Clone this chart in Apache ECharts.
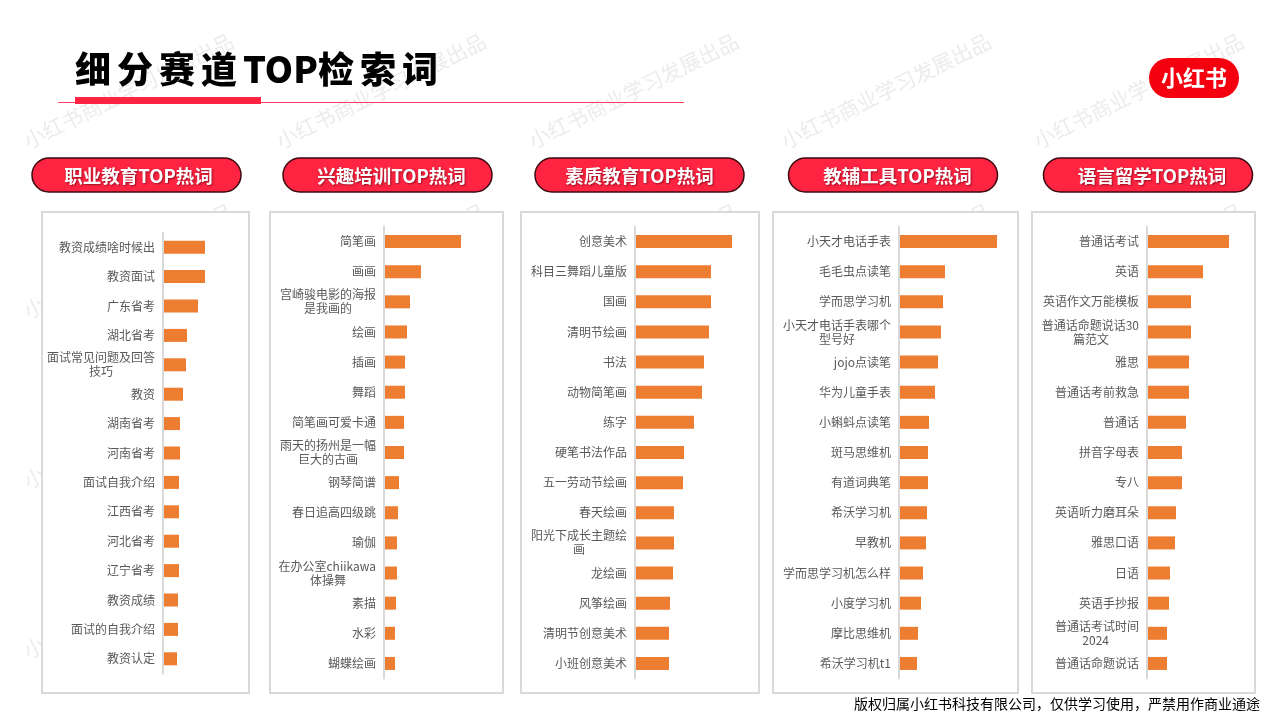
<!DOCTYPE html>
<html>
<head>
<meta charset="utf-8">
<style>html,body{margin:0;padding:0;background:#fff}#main{width:1280px;height:720px}</style>
<script src="https://cdn.jsdelivr.net/npm/echarts@6/dist/echarts.min.js"></script>
</head>
<body>
<div id="main"></div>
<script>
var titles = ['职业教育TOP热词', '兴趣培训TOP热词', '素质教育TOP热词', '教辅工具TOP热词', '语言留学TOP热词'];

var cats1 = ['教资成绩啥时候出', '教资面试', '广东省考', '湖北省考', '面试常见问题及回答\n技巧', '教资', '湖南省考', '河南省考', '面试自我介绍', '江西省考', '河北省考', '辽宁省考', '教资成绩', '面试的自我介绍', '教资认定'];
var vals1 = [42, 42, 35, 24, 23, 20, 17, 17, 16, 16, 16, 16, 15, 15, 14];

var cats2 = ['简笔画', '画画', '宫崎骏电影的海报\n是我画的', '绘画', '插画', '舞蹈', '简笔画可爱卡通', '雨天的扬州是一幅\n巨大的古画', '钢琴简谱', '春日追高四级跳', '瑜伽', '在办公室chiikawa\n体操舞', '素描', '水彩', '蝴蝶绘画'];
var vals2 = [77, 37, 26, 23, 21, 21, 20, 20, 15, 14, 13, 13, 12, 11, 11];

var cats3 = ['创意美术', '科目三舞蹈儿童版', '国画', '清明节绘画', '书法', '动物简笔画', '练字', '硬笔书法作品', '五一劳动节绘画', '春天绘画', '阳光下成长主题绘\n画', '龙绘画', '风筝绘画', '清明节创意美术', '小班创意美术'];
var vals3 = [97, 76, 76, 74, 69, 67, 59, 49, 48, 39, 39, 38, 35, 34, 34];

var cats4 = ['小天才电话手表', '毛毛虫点读笔', '学而思学习机', '小天才电话手表哪个\n型号好', 'jojo点读笔', '华为儿童手表', '小蝌蚪点读笔', '斑马思维机', '有道词典笔', '希沃学习机', '早教机', '学而思学习机怎么样', '小度学习机', '摩比思维机', '希沃学习机t1'];
var vals4 = [98, 46, 44, 42, 39, 36, 30, 29, 29, 28, 27, 24, 22, 19, 18];

var cats5 = ['普通话考试', '英语', '英语作文万能模板', '普通话命题说话30\n篇范文', '雅思', '普通话考前救急', '普通话', '拼音字母表', '专八', '英语听力磨耳朵', '雅思口语', '日语', '英语手抄报', '普通话考试时间\n2024', '普通话命题说话'];
var vals5 = [82, 56, 44, 44, 42, 42, 39, 35, 35, 29, 28, 23, 22, 20, 20];

var allCats = [cats1, cats2, cats3, cats4, cats5];
var allVals = [vals1, vals2, vals3, vals4, vals5];

var axisX = [163, 384, 635, 899, 1147];
var gridTop = [232.5, 226.5, 226.5, 226.5, 226.5];
var gridBottom = [673.5, 678.5, 678.5, 678.5, 678.5];
var boxL = [42, 270, 521, 773, 1032];
var boxR = [249, 503, 759, 1018, 1255];
var pillL = [32, 283, 535, 788.5, 1043.5];
var pillTextX = [138.5, 391.5, 639.5, 897.5, 1152];

var labelFont = '12px "Noto Sans CJK SC"';
var ctx = document.createElement('canvas').getContext('2d');
ctx.font = labelFont;

// 换行的标签第二行要居中，右对齐时用全角空格垫出来
function centerLines(text) {
    var lines = text.split('\n');
    if (lines.length == 1) return text;
    var w = ctx.measureText(lines[0]).width;
    var diff = (w - ctx.measureText(lines[1]).width) / 2;
    var pad = '';
    while (diff >= 12) { pad += '\u3000'; diff -= 12; }
    if (diff >= 3) pad += '\u2002';
    return lines[0] + '\n' + lines[1] + pad;
}

var myChart = echarts.init(document.getElementById('main'), null, {renderer: 'canvas'});

var grids = [], xAxes = [], yAxes = [], series = [], graphics = [];

// 水印
for (var r = 0; r < 4; r++) {
    for (var c = 0; c < 5; c++) {
        graphics.push({
            type: 'text', x: 25 + c * 252.5, y: 142 + r * 170, rotation: 0.46, z: 0,
            style: {
                text: '小红书商业学习发展出品', fill: '#ececec',
                font: '21px "Noto Sans CJK SC"', textVerticalAlign: 'middle'
            }
        });
    }
}

for (var i = 0; i < 5; i++) {
    grids.push({left: axisX[i], width: 100, top: gridTop[i], height: gridBottom[i] - gridTop[i]});
    xAxes.push({type: 'value', gridIndex: i, min: 0, max: 100, show: false});
    yAxes.push({
        type: 'category', gridIndex: i, inverse: true, z: 5,
        data: allCats[i].map(centerLines),
        axisLine: {show: true, lineStyle: {color: '#d9d9d9', width: 2}},
        axisTick: {show: false},
        axisLabel: {
            interval: 0, margin: 8, color: '#595959', fontSize: 12,
            fontFamily: 'Noto Sans CJK SC', lineHeight: 14
        }
    });
    series.push({
        type: 'bar', xAxisIndex: i, yAxisIndex: i, data: allVals[i],
        barWidth: 13, silent: true, z: 4,
        itemStyle: {color: '#ed7d31'}
    });
    graphics.push({
        type: 'rect', z: 1,
        shape: {x: boxL[i], y: 212, width: boxR[i] - boxL[i], height: 481},
        style: {fill: '#fff', stroke: '#d9d9d9', lineWidth: 2}
    });
    graphics.push({
        type: 'rect', z: 6,
        shape: {x: pillL[i], y: 158, width: 209, height: 34, r: 17},
        style: {fill: '#ff2442', stroke: '#3d0a12', lineWidth: 1.5}
    });
    graphics.push({
        type: 'text', z: 7, x: pillTextX[i], y: 176,
        style: {
            text: titles[i], fill: '#fff', font: 'bold 18.5px "Noto Sans CJK SC"',
            textAlign: 'center', textVerticalAlign: 'middle',
            textShadowColor: 'rgba(80,0,10,0.6)', textShadowBlur: 2, textShadowOffsetX: 1, textShadowOffsetY: 1
        }
    });
}

graphics.push({
    type: 'text', z: 7, x: 75, y: 69,
    style: {
        text: '细\u2006分\u2006赛\u2006道\u2006TOP检\u2006索\u2006词', fill: '#000',
        font: '900 36px "Noto Sans CJK SC"', textVerticalAlign: 'middle'
    }
});
graphics.push({type: 'rect', z: 6, shape: {x: 58, y: 102, width: 626, height: 1}, style: {fill: '#ff3f5e'}});
graphics.push({type: 'rect', z: 7, shape: {x: 75, y: 97, width: 186, height: 7}, style: {fill: '#ff2442'}});
graphics.push({type: 'rect', z: 6, shape: {x: 1149, y: 58, width: 90, height: 40, r: 20}, style: {fill: '#f5000f'}});
graphics.push({
    type: 'text', z: 7, x: 1194, y: 78,
    style: {
        text: '小红书', fill: '#fff', font: 'bold 22px "Noto Sans CJK SC"',
        textAlign: 'center', textVerticalAlign: 'middle'
    }
});
graphics.push({
    type: 'text', z: 7, x: 1260, y: 704,
    style: {
        text: '版权归属小红书科技有限公司，仅供学习使用，严禁用作商业通途', fill: '#000',
        font: '14px "Noto Sans CJK SC"', textAlign: 'right', textVerticalAlign: 'middle'
    }
});

myChart.setOption({
    animation: false,
    backgroundColor: '#fff',
    grid: grids,
    xAxis: xAxes,
    yAxis: yAxes,
    series: series,
    graphic: graphics
});
</script>
</body>
</html>
